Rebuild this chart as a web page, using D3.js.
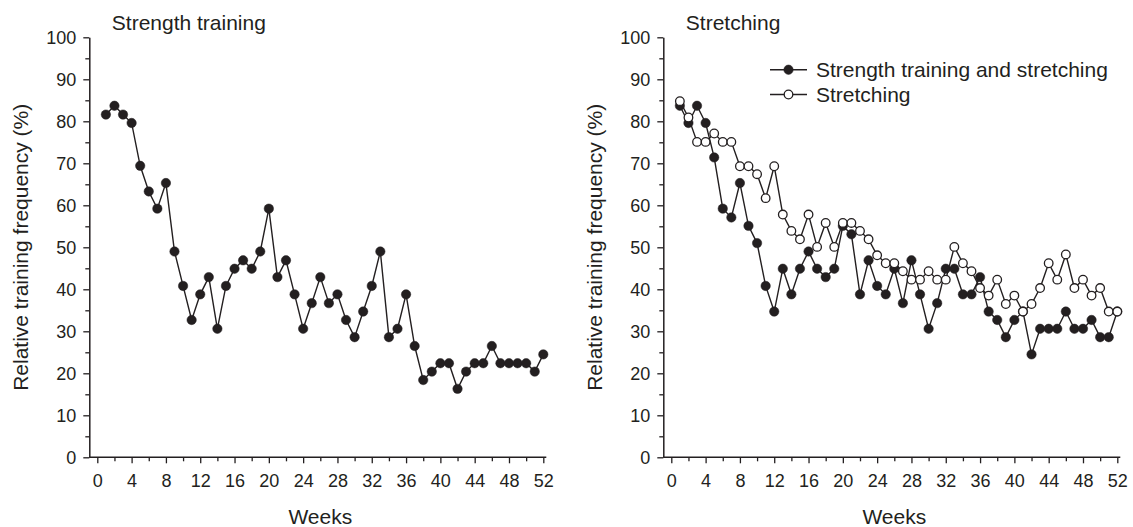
<!DOCTYPE html>
<html>
<head>
<meta charset="utf-8">
<script src="https://cdn.jsdelivr.net/npm/d3@7"></script>
<style>
  body { margin: 0; background: #fff; }
  svg text { font-family: "Liberation Sans", Arial, sans-serif; fill: #231f20; }
</style>
</head>
<body>
<div class="layout"></div>
<script>

// weeks of the study
var weeks = [1, 2, 3, 4, 5, 6, 7, 8, 9, 10, 11, 12, 13, 14, 15, 16, 17, 18, 19, 20,
  21, 22, 23, 24, 25, 26, 27, 28, 29, 30, 31, 32, 33, 34, 35, 36, 37, 38, 39, 40,
  41, 42, 43, 44, 45, 46, 47, 48, 49, 50, 51, 52]

// strength training group (left panel)
var strength = [81.6, 83.7, 81.6, 79.6, 69.4, 63.3, 59.2, 65.3, 49.0, 40.8,
  32.7, 38.8, 42.9, 30.6, 40.8, 44.9, 46.9, 44.9, 49.0, 59.2,
  42.9, 46.9, 38.8, 30.6, 36.7, 42.9, 36.7, 38.8, 32.7, 28.6,
  34.7, 40.8, 49.0, 28.6, 30.6, 38.8, 26.5, 18.4, 20.4, 22.4,
  22.4, 16.3, 20.4, 22.4, 22.4, 26.5, 22.4, 22.4, 22.4, 22.4,
  20.4, 24.5]

// strength training and stretching group (right panel, filled)
var strengthStretch = [83.7, 79.6, 83.7, 79.6, 71.4, 59.2, 57.1, 65.3, 55.1, 51.0,
  40.8, 34.7, 44.9, 38.8, 44.9, 49.0, 44.9, 42.9, 44.9, 55.1,
  53.1, 38.8, 46.9, 40.8, 38.8, 44.9, 36.7, 46.9, 38.8, 30.6,
  36.7, 44.9, 44.9, 38.8, 38.8, 42.9, 34.7, 32.7, 28.6, 32.7,
  34.7, 24.5, 30.6, 30.6, 30.6, 34.7, 30.6, 30.6, 32.7, 28.6,
  28.6, 34.7]

// stretching group (right panel, open)
var stretching = [84.8, 80.9, 75.1, 75.1, 77.1, 75.1, 75.1, 69.3, 69.3, 67.4,
  61.7, 69.3, 57.8, 53.9, 51.9, 57.8, 50.1, 55.8, 50.1, 55.8,
  55.8, 53.9, 51.9, 48.1, 46.2, 46.2, 44.3, 42.3, 42.3, 44.3,
  42.3, 42.3, 50.1, 46.2, 44.3, 40.3, 38.5, 42.3, 36.5, 38.5,
  34.7, 36.5, 40.3, 46.2, 42.3, 48.3, 40.3, 42.3, 38.5, 40.3,
  34.7, 34.7]

// tick labels
var xTicks = [0, 4, 8, 12, 16, 20, 24, 28, 32, 36, 40, 44, 48, 52]
var xMinor = [2, 6, 10, 14, 18, 22, 26, 30, 34, 38, 42, 46, 50]
var yTicks = [0, 10, 20, 30, 40, 50, 60, 70, 80, 90, 100]
var yMinor = [5, 15, 25, 35, 45, 55, 65, 75, 85, 95]

var legendLabels = ["Strength training and stretching", "Stretching"]

var ink = "#231f20"
var width = 1133
var height = 527

var svg = d3.select("div.layout")
  .append("svg")
    .attr("width", width)
    .attr("height", height)

const y = d3.scaleLinear()
  .domain([0, 100])
  .range([457.3, 37.3])

// draws one panel, left is the x of the y axis
function makePanel (left, title, series) {
  const x = d3.scaleLinear()
    .domain([0, 52])
    .range([left + 8, left + 454])

  var g = svg.append("g")

  // y axis
  var yAxis = g.append("g")
    .attr("transform", "translate(" + left + ", 0)")
    .call(d3.axisLeft(y).tickValues(yTicks).tickSize(6).tickSizeOuter(0).tickPadding(7))
  yAxis.selectAll("text").attr("font-size", 18)

  g.append("g")
    .attr("transform", "translate(" + left + ", 0)")
    .call(d3.axisLeft(y).tickValues(yMinor).tickSize(4).tickFormat(""))
    .select(".domain").remove()

  // x axis
  var xAxis = g.append("g")
    .attr("transform", "translate(0, " + y(0) + ")")
    .call(d3.axisBottom(x).tickValues(xTicks).tickSize(6).tickSizeOuter(0).tickPadding(11))
  xAxis.selectAll("text").attr("font-size", 18)
  xAxis.select(".domain").remove()

  g.append("g")
    .attr("transform", "translate(0, " + y(0) + ")")
    .call(d3.axisBottom(x).tickValues(xMinor).tickSize(4).tickFormat(""))
    .select(".domain").remove()

  g.append("line")
    .attr("x1", left)
    .attr("x2", x(52) + 3)
    .attr("y1", y(0))
    .attr("y2", y(0))
    .attr("stroke", ink)
    .attr("stroke-width", 1.5)

  g.selectAll(".domain").attr("stroke", ink).attr("stroke-width", 1.5)
  g.selectAll(".tick line").attr("stroke", ink).attr("stroke-width", 1.3)
  g.selectAll(".tick text").style("fill", ink)

  // titles and labels
  g.append("text")
    .attr("x", left + 22.5)
    .attr("y", 30)
    .attr("font-size", 21)
    .text(title)

  g.append("text")
    .attr("x", (x(0) + x(52)) / 2)
    .attr("y", 524)
    .attr("text-anchor", "middle")
    .attr("font-size", 21)
    .text("Weeks")

  g.append("text")
    .attr("transform", "translate(" + (left - 61) + ", " + ((y(0) + y(100)) / 2) + ") rotate(-90)")
    .attr("text-anchor", "middle")
    .attr("font-size", 21)
    .text("Relative training frequency (%)")

  const line = d3.line()
    .x(function (d, i) { return x(weeks[i]) })
    .y(function (d) { return y(d) })

  // lines and markers for each series
  series.forEach(function (s) {
    g.append("path")
      .datum(s.values)
      .attr("d", line)
      .attr("fill", "none")
      .attr("stroke", ink)
      .attr("stroke-width", 1.4)

    g.selectAll("circle." + s.name)
      .data(s.values)
      .enter()
      .append("circle")
      .attr("class", s.name)
      .attr("cx", function (d, i) { return x(weeks[i]) })
      .attr("cy", function (d) { return y(d) })
      .attr("r", s.open ? 4.3 : 4.7)
      .attr("fill", s.open ? "#fff" : ink)
      .attr("stroke", ink)
      .attr("stroke-width", s.open ? 1.3 : 0.5)
  })
}

makePanel(89.3, "Strength training", [
  { name: "strength", values: strength, open: false }
])

makePanel(663.3, "Stretching", [
  { name: "combined", values: strengthStretch, open: false },
  { name: "stretch", values: stretching, open: true }
])

// make legend
var legend = svg.selectAll("g.legend")
  .data(legendLabels)
  .enter()
  .append("g")
  .attr("class", "legend")
  .attr("transform", function (d, i) {
    return "translate(770, " + (69.7 + i * 24.8) + ")"
  })

legend.append("line")
  .attr("x1", 0)
  .attr("x2", 37)
  .attr("stroke", ink)
  .attr("stroke-width", 1.4)

legend.append("circle")
  .attr("cx", 18.5)
  .attr("r", function (d, i) { return i === 0 ? 4.7 : 4.3 })
  .attr("fill", function (d, i) { return i === 0 ? ink : "#fff" })
  .attr("stroke", ink)
  .attr("stroke-width", function (d, i) { return i === 0 ? 0.5 : 1.3 })

legend.append("text")
  .attr("x", 46)
  .attr("y", 7.5)
  .attr("font-size", 21)
  .text(function (d) { return d })

</script>
</body>
</html>
